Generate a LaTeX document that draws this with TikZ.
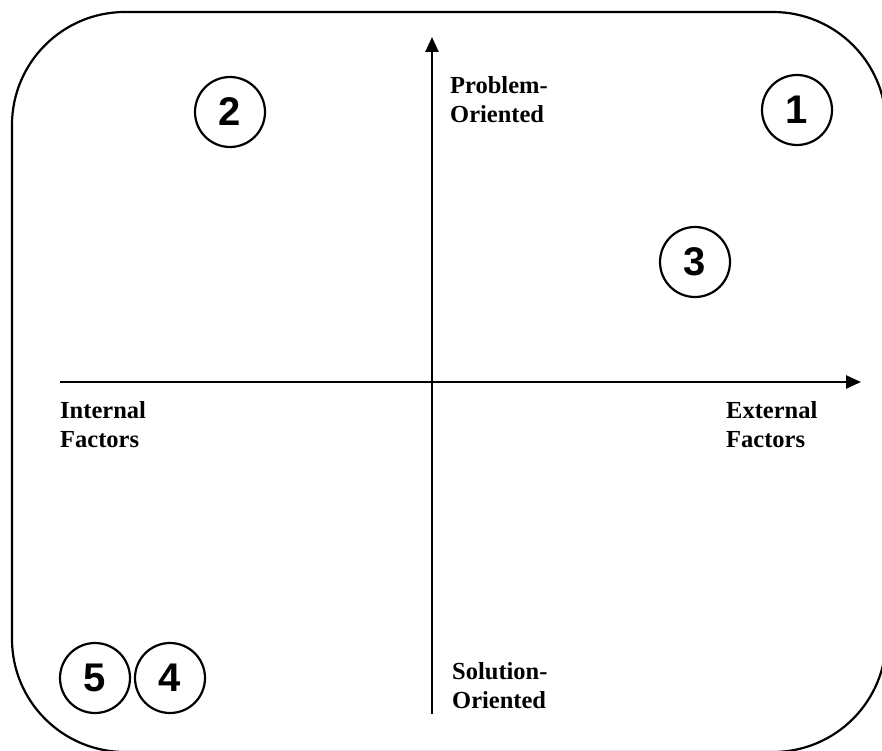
\documentclass[tikz,border=0pt]{standalone}
\usepackage{fontspec}
\setmainfont{Liberation Serif}
\newfontfamily\digitfont{Liberation Sans}
\usetikzlibrary{arrows.meta}
\tikzset{
  frame/.style={draw=black, line width=2.2pt, rounded corners=113pt},
  axis/.style={draw=black, line width=2.6pt, -{Triangle[length=15pt,width=13pt]}},
  axlabel/.style={inner sep=0pt, anchor=west, align=left, font=\fontsize{24.5}{29}\selectfont\bfseries},
  numcirc/.style={draw=black, circle, line width=2.2pt, minimum size=70pt, inner sep=0pt, font=\digitfont\fontsize{40}{40}\selectfont\bfseries}
}
\begin{document}
\begin{tikzpicture}[x=1pt,y=-1pt]
\useasboundingbox (0,0) rectangle (882,751);
\draw[frame] (12,12) rectangle (886,752);
\coordinate (hs) at (60,382);
\coordinate (he) at (861,382);
\coordinate (vs) at (432,714);
\coordinate (ve) at (432,37);
\draw[axis] (hs) -- (he);
\draw[axis] (vs) -- (ve);
\node[axlabel] (po) at (450,100) {Problem-\\Oriented};
\node[axlabel] (so) at (452,686) {Solution-\\Oriented};
\node[axlabel] (inf) at (60,425) {Internal\\Factors};
\node[axlabel] (exf) at (726,425) {External\\Factors};
\node[numcirc] (c1) at (797,110) {1};
\node[numcirc] (c2) at (230,112) {2};
\node[numcirc] (c3) at (695,262) {3};
\node[numcirc] (c5) at (95,678) {5};
\node[numcirc] (c4) at (170,678) {4};
\end{tikzpicture}
\end{document}
